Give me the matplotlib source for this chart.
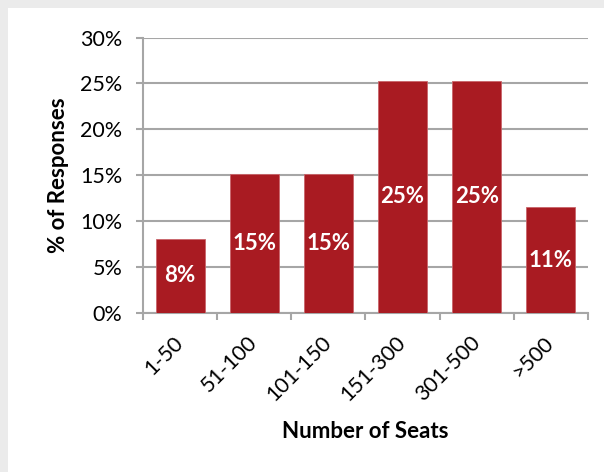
import matplotlib.pyplot as plt
import matplotlib.patches as mpatches

plt.rcParams['font.family'] = ['Lato', 'DejaVu Sans']

# survey data
seats = ['1-50', '51-100', '101-150', '151-300', '301-500', '>500']
share = [8.1, 15.1, 15.1, 25.3, 25.3, 11.5]   # % of responses
labels = ['8%', '15%', '15%', '25%', '25%', '11%']
yticks = [0, 5, 10, 15, 20, 25, 30]

bar_color = '#a91b22'
grid_color = '#a6a6a6'

fig = plt.figure(figsize=(6.04, 4.72), dpi=100, facecolor='#ebebeb')
# white panel inside the grey frame
panel = mpatches.Rectangle((8 / 604, 0), 596 / 604, 464 / 472,
                           transform=fig.transFigure, facecolor='white',
                           edgecolor='none', zorder=-10)
fig.add_artist(panel)

ax = fig.add_axes([143 / 604, (472 - 313) / 472, 445 / 604, 275.5 / 472])
ax.set_facecolor('white')

x = range(len(seats))
bars = ax.bar(x, share, width=0.66, color=bar_color, edgecolor='#c9646a',
              linewidth=0.6, zorder=3)

for rect, lab in zip(bars, labels):
    ax.text(rect.get_x() + rect.get_width() / 2, rect.get_height() / 2, lab,
            ha='center', va='center', color='white', fontsize=16,
            fontweight='bold', zorder=4)

ax.set_xlim(-0.5, len(seats) - 0.5)
ax.set_ylim(0, 30)
ax.set_yticks(yticks)
ax.set_yticklabels([f'{v}%' for v in yticks], fontsize=15.5)
ax.yaxis.grid(True, color=grid_color, linewidth=1.5, zorder=0)
ax.set_axisbelow(True)

ax.set_xticks(list(x))
ax.set_xticklabels(seats, rotation=45, ha='right', va='center',
                   rotation_mode='anchor', fontsize=15.5)
ax.set_xticks([i - 0.5 for i in range(len(seats) + 1)], minor=True)
ax.tick_params(axis='x', which='major', length=0, pad=19)
ax.tick_params(axis='x', which='minor', length=5, color=grid_color, width=1.5)
ax.tick_params(axis='y', length=5, color=grid_color, width=1.5, pad=10)

for side in ['top', 'right']:
    ax.spines[side].set_visible(False)
for side in ['left', 'bottom']:
    ax.spines[side].set_color(grid_color)
    ax.spines[side].set_linewidth(1.5)

ax.set_ylabel('% of Responses', fontsize=16, fontweight='bold', labelpad=8)
ax.set_xlabel('Number of Seats', fontsize=16, fontweight='bold', labelpad=12)

fig.savefig('out.png', dpi=100, facecolor=fig.get_facecolor())
